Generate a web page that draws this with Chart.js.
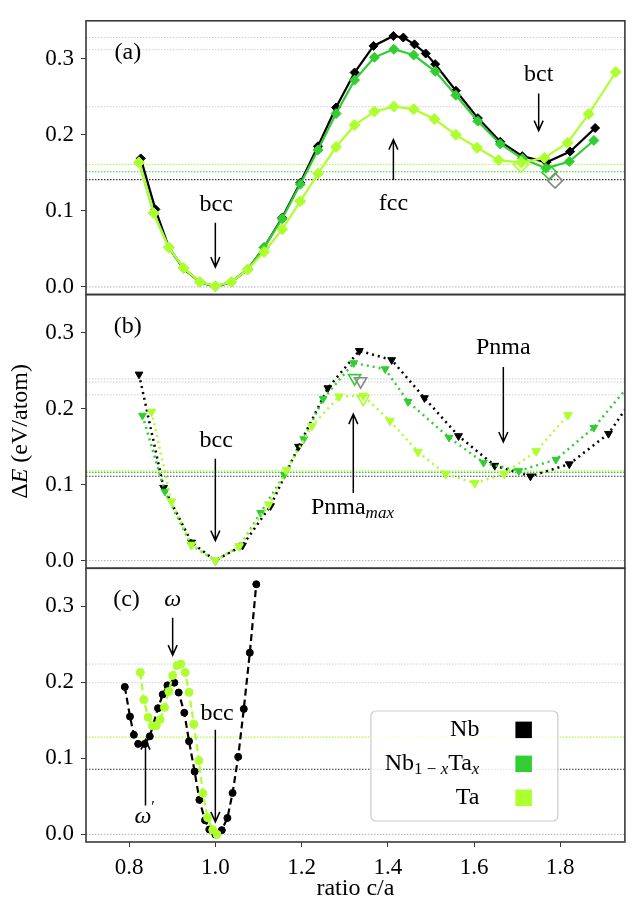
<!DOCTYPE html>
<html>
<head>
<meta charset="utf-8">
<script src="https://cdn.jsdelivr.net/npm/chart.js@4.4.1/dist/chart.umd.min.js"></script>
<style>
  html, body { margin: 0; padding: 0; background: #fff; }
  #wrap { width: 634px; height: 900px; }
</style>
</head>
<body>
<div id="wrap"><canvas id="chart" width="634" height="900"></canvas></div>
<script>
const FONT = "Liberation Serif";
const X_MIN = 0.70;
const X_MAX = 1.95;
const Y_MIN = -0.01;
const Y_MAX = 0.35;
const X_TICKS = [0.8, 1.0, 1.2, 1.4, 1.6, 1.8];
const Y_TICKS = [0.0, 0.1, 0.2, 0.3];

const COLORS = {
    nb: "#000000",
    nbta: "#32cd32",
    ta: "#adff2f",
    open: "#888888",
    faint: "rgba(165, 165, 165, 0.55)",
    frame: "#3a3a3a",
};

// (a) tetragonal Bain path
const A_NB_X = [0.827, 0.861, 0.892, 0.926, 0.964, 1.000, 1.037, 1.075, 1.113, 1.155, 1.197, 1.238, 1.280, 1.323, 1.367, 1.413, 1.436, 1.462, 1.488, 1.510, 1.558, 1.609, 1.661, 1.712, 1.768, 1.823, 1.881];
const A_NB_Y = [0.169, 0.102, 0.052, 0.024, 0.0065, 0.000, 0.0065, 0.023, 0.052, 0.091, 0.137, 0.185, 0.236, 0.282, 0.317, 0.330, 0.328, 0.319, 0.307, 0.293, 0.258, 0.222, 0.191, 0.172, 0.164, 0.178, 0.209];
const A_NBTA_X = [0.823, 0.857, 0.892, 0.926, 0.964, 1.000, 1.037, 1.075, 1.113, 1.155, 1.197, 1.238, 1.280, 1.323, 1.369, 1.414, 1.460, 1.510, 1.558, 1.609, 1.661, 1.712, 1.767, 1.821, 1.878];
const A_NBTA_Y = [0.164, 0.097, 0.052, 0.025, 0.0065, 0.001, 0.0065, 0.023, 0.052, 0.0896, 0.135, 0.180, 0.228, 0.272, 0.302, 0.3126, 0.305, 0.2835, 0.252, 0.218, 0.188, 0.169, 0.156, 0.165, 0.1926];
const A_TA_X = [0.823, 0.857, 0.892, 0.926, 0.964, 1.000, 1.037, 1.075, 1.113, 1.155, 1.197, 1.238, 1.280, 1.323, 1.369, 1.414, 1.460, 1.508, 1.558, 1.607, 1.657, 1.710, 1.763, 1.817, 1.866, 1.929];
const A_TA_Y = [0.1636, 0.097, 0.052, 0.025, 0.0065, 0.001, 0.0065, 0.023, 0.046, 0.0757, 0.1126, 0.149, 0.184, 0.213, 0.2307, 0.2372, 0.2338, 0.2208, 0.200, 0.183, 0.1667, 0.1636, 0.1697, 0.1896, 0.2273, 0.2827];
// bct minima (open diamonds): Nb, Nb1-xTax, Ta
const A_BCT_X = [1.788, 1.775, 1.709];
const A_BCT_Y = [0.1398, 0.1506, 0.161];
const A_MIN_LEVELS = [0.141, 0.1515, 0.161];
const A_MAX_LEVELS = [0.328, 0.312, 0.237];

// (b) orthorhombic path
const B_NB_X = [0.823, 0.880, 0.945, 1.000, 1.063, 1.128, 1.193, 1.261, 1.334, 1.409, 1.485, 1.564, 1.648, 1.731, 1.821, 1.912, 1.995];
const B_NB_Y = [0.245, 0.096, 0.024, 0.000, 0.020, 0.072, 0.150, 0.227, 0.276, 0.264, 0.214, 0.164, 0.125, 0.111, 0.127, 0.167, 0.235];
const B_NBTA_X = [0.831, 0.883, 0.944, 1.000, 1.056, 1.105, 1.160, 1.205, 1.250, 1.321, 1.394, 1.447, 1.542, 1.622, 1.704, 1.790, 1.878, 1.966];
const B_NBTA_Y = [0.191, 0.091, 0.021, 0.000, 0.0185, 0.063, 0.113, 0.160, 0.213, 0.260, 0.252, 0.209, 0.162, 0.129, 0.118, 0.133, 0.175, 0.235];
const B_TA_X = [0.852, 0.898, 0.945, 1.000, 1.055, 1.124, 1.165, 1.224, 1.287, 1.343, 1.405, 1.470, 1.534, 1.602, 1.670, 1.744, 1.818];
const B_TA_Y = [0.196, 0.078, 0.021, 0.000, 0.019, 0.074, 0.119, 0.177, 0.216, 0.217, 0.184, 0.143, 0.114, 0.102, 0.114, 0.144, 0.1915];
// Pnma_max (open triangles): Nb, Nb1-xTax, Ta
const B_MAX_X = [1.337, 1.323, 1.343];
const B_MAX_Y = [0.236, 0.240, 0.213];
const B_MIN_LEVELS = [0.111, 0.116, 0.118];
const B_MAX_LEVELS = [0.235, 0.239, 0.218];

// (c) trigonal path (omega)
const C_NB_X = [0.790, 0.802, 0.811, 0.821, 0.836, 0.848, 0.867, 0.878, 0.889, 0.905, 0.915, 0.928, 0.939, 0.952, 0.963, 0.976, 0.986, 1.000, 1.015, 1.028, 1.040, 1.053, 1.066, 1.080, 1.095];
const C_NB_Y = [0.194, 0.155, 0.131, 0.119, 0.119, 0.129, 0.166, 0.184, 0.196, 0.1995, 0.1865, 0.160, 0.1225, 0.0826, 0.0455, 0.0186, 0.0065, 0.000, 0.0056, 0.0216, 0.0545, 0.102, 0.165, 0.239, 0.329];
const C_TA_X = [0.826, 0.834, 0.844, 0.854, 0.863, 0.872, 0.882, 0.892, 0.901, 0.911, 0.920, 0.930, 0.939, 0.950, 0.962, 0.971, 0.982, 0.994, 1.004];
const C_TA_Y = [0.213, 0.177, 0.154, 0.143, 0.143, 0.151, 0.167, 0.188, 0.209, 0.222, 0.224, 0.213, 0.187, 0.145, 0.097, 0.054, 0.022, 0.006, 0.000];
const C_MIN_LEVELS = [0.0857, 0.128];
const C_MAX_LEVELS = [0.1995, 0.224];

const F = (size, style = "") => `${style} ${size}px "${FONT}"`.trim();

// labels in data coordinates of their panel
const NOTES = [
    { axis: "ya", x: 0.797, y: 0.308, parts: [["(a)", F(24)]] },
    { axis: "ya", x: 1.002, y: 0.108, parts: [["bcc", F(24)]] },
    { axis: "ya", x: 1.413, y: 0.109, parts: [["fcc", F(24)]] },
    { axis: "ya", x: 1.750, y: 0.279, parts: [["bct", F(24)]] },
    { axis: "yb", x: 0.797, y: 0.308, parts: [["(b)", F(24)]] },
    { axis: "yb", x: 1.002, y: 0.158, parts: [["bcc", F(24)]] },
    { axis: "yb", x: 1.318, y: 0.070, parts: [["Pnma", F(24)], ["max", F(17, "italic"), 6]] },
    { axis: "yb", x: 1.668, y: 0.2795, parts: [["Pnma", F(24)]] },
    { axis: "yc", x: 0.794, y: 0.3086, parts: [["(c)", F(24)]] },
    { axis: "yc", x: 0.901, y: 0.3086, parts: [["ω", F(24, "italic")]] },
    { axis: "yc", x: 1.004, y: 0.159, parts: [["bcc", F(24)]] },
    { axis: "yc", x: 0.836, y: 0.023, parts: [["ω", F(24, "italic")], ["′", F(16), -9]] },
];
const ARROWS = [
    { axis: "ya", x: 1.000, from: 0.0844, to: 0.026 },
    { axis: "ya", x: 1.413, from: 0.1406, to: 0.1938 },
    { axis: "ya", x: 1.750, from: 0.2545, to: 0.2056 },
    { axis: "yb", x: 1.000, from: 0.134, to: 0.0263 },
    { axis: "yb", x: 1.320, from: 0.089, to: 0.1927 },
    { axis: "yb", x: 1.668, from: 0.2546, to: 0.156 },
    { axis: "yc", x: 0.901, from: 0.2848, to: 0.2358 },
    { axis: "yc", x: 1.000, from: 0.1377, to: 0.0164 },
    { axis: "yc", x: 0.838, from: 0.038, to: 0.1247 },
];
const LEGEND = [
    { color: COLORS.nb, parts: [["Nb", F(24)]] },
    { color: COLORS.nbta, parts: [["Nb", F(24)], ["1 − ", F(17), 6], ["x", F(17, "italic"), 6], ["Ta", F(24)], ["x", F(17, "italic"), 6]] },
    { color: COLORS.ta, parts: [["Ta", F(24)]] },
];

const pts = (xs, ys) => xs.map((x, i) => ({ x, y: ys[i] }));

function curve(label, xs, ys, axis, color, style) {
    return {
        label,
        data: pts(xs, ys),
        yAxisID: axis,
        borderColor: color,
        backgroundColor: color,
        pointBackgroundColor: color,
        pointBorderColor: color,
        pointBorderWidth: 1,
        tension: 0,
        ...style,
    };
}

function openMarkers(xs, ys, axis, colors, style) {
    return xs.map((x, i) => ({
        data: [{ x, y: ys[i] }],
        yAxisID: axis,
        showLine: false,
        borderColor: colors[i],
        pointBorderColor: colors[i],
        pointBackgroundColor: "rgba(0,0,0,0)",
        pointBorderWidth: 1.6,
        order: 0,
        ...style,
    }));
}

function level(v, axis, color, width) {
    return {
        data: [{ x: X_MIN, y: v }, { x: X_MAX, y: v }],
        yAxisID: axis,
        borderColor: color,
        borderWidth: width,
        borderDash: [1.5, 1.5],
        pointRadius: 0,
        order: 20,
    };
}

const diamonds = (r, order) => ({ borderWidth: 2.2, pointStyle: "rectRot", pointRadius: r, order });
const triangles = (r, order) => ({ borderWidth: 2.5, borderDash: [2, 4], pointStyle: "triangle", pointRotation: 180, pointRadius: r, order });
const circles = (r, order) => ({ borderWidth: 2.2, borderDash: [7, 4], pointStyle: "circle", pointRadius: r, order });
const OPEN3 = [COLORS.open, COLORS.nbta, COLORS.ta];

const datasets = [
    // reference levels
    ...["ya", "yb", "yc"].map((a) => level(0, a, "rgba(120,120,140,0.6)", 1)),
    ...A_MAX_LEVELS.map((v) => level(v, "ya", COLORS.faint, 1)),
    ...B_MAX_LEVELS.map((v) => level(v, "yb", COLORS.faint, 1)),
    ...C_MAX_LEVELS.map((v) => level(v, "yc", COLORS.faint, 1)),
    level(A_MIN_LEVELS[0], "ya", "#333", 1.2),
    level(A_MIN_LEVELS[1], "ya", COLORS.nbta, 1.2),
    level(A_MIN_LEVELS[2], "ya", COLORS.ta, 1.2),
    level(B_MIN_LEVELS[0], "yb", "#333", 1.2),
    level(B_MIN_LEVELS[1], "yb", COLORS.nbta, 1.2),
    level(B_MIN_LEVELS[2], "yb", COLORS.ta, 1.2),
    level(C_MIN_LEVELS[0], "yc", "#333", 1.2),
    level(C_MIN_LEVELS[1], "yc", COLORS.ta, 1.2),

    curve("Nb", A_NB_X, A_NB_Y, "ya", COLORS.nb, diamonds(4.5, 3)),
    curve("Nb1-xTax", A_NBTA_X, A_NBTA_Y, "ya", COLORS.nbta, diamonds(5, 2)),
    curve("Ta", A_TA_X, A_TA_Y, "ya", COLORS.ta, diamonds(5.5, 1)),
    ...openMarkers(A_BCT_X, A_BCT_Y, "ya", OPEN3, { pointStyle: "rectRot", pointRadius: 7.5 }),

    curve("Nb", B_NB_X, B_NB_Y, "yb", COLORS.nb, triangles(4.5, 3)),
    curve("Nb1-xTax", B_NBTA_X, B_NBTA_Y, "yb", COLORS.nbta, triangles(4.5, 2)),
    curve("Ta", B_TA_X, B_TA_Y, "yb", COLORS.ta, triangles(5, 1)),
    ...openMarkers(B_MAX_X, B_MAX_Y, "yb", OPEN3, { pointStyle: "triangle", pointRotation: 180, pointRadius: 7 }),

    curve("Nb", C_NB_X, C_NB_Y, "yc", COLORS.nb, circles(3.5, 3)),
    curve("Ta", C_TA_X, C_TA_Y, "yc", COLORS.ta, circles(4, 1)),
];

function yAxis() {
    return {
        type: "linear",
        position: "left",
        stack: "energy",
        stackWeight: 1,
        min: Y_MIN,
        max: Y_MAX,
        afterBuildTicks: (s) => { s.ticks = Y_TICKS.map((v) => ({ value: v })); },
        afterFit: (s) => { s.width = 86; },
        grid: { drawOnChartArea: false, drawTicks: true, tickLength: 5, color: COLORS.frame, lineWidth: 1 },
        border: { display: false },
        ticks: { color: "#000", font: { family: FONT, size: 23 }, padding: 7, callback: (v) => v.toFixed(1) },
    };
}

function drawRich(ctx, parts, cx, cy, align) {
    let w = 0;
    parts.forEach(([t, f]) => { ctx.font = f; w += ctx.measureText(t).width; });
    let x = align === "right" ? cx - w : cx - w / 2;
    ctx.textAlign = "left";
    ctx.textBaseline = "middle";
    parts.forEach(([t, f, dy = 0]) => {
        ctx.font = f;
        ctx.fillText(t, x, cy + dy);
        x += ctx.measureText(t).width;
    });
}

function drawArrow(ctx, x, y0, y1) {
    const dir = Math.sign(y1 - y0);
    ctx.beginPath();
    ctx.moveTo(x, y0);
    ctx.lineTo(x, y1);
    ctx.moveTo(x - 4.5, y1 - dir * 10);
    ctx.lineTo(x, y1);
    ctx.lineTo(x + 4.5, y1 - dir * 10);
    ctx.stroke();
}

const panelDecor = {
    id: "panelDecor",
    afterDatasetsDraw(chart) {
        const { ctx, scales } = chart;
        const xs = scales.x;
        ctx.save();
        ctx.strokeStyle = COLORS.frame;
        ctx.lineWidth = 1.6;
        ["ya", "yb", "yc"].forEach((id) => {
            const ys = scales[id];
            ctx.strokeRect(xs.left, ys.top, xs.right - xs.left, ys.bottom - ys.top);
        });
        ctx.restore();
    },
    afterDraw(chart) {
        const { ctx, scales, chartArea } = chart;
        const xs = scales.x;
        ctx.save();
        ctx.fillStyle = "#000";
        ctx.strokeStyle = "#000";
        ctx.lineWidth = 1.5;

        NOTES.forEach((n) => {
            const ys = scales[n.axis];
            drawRich(ctx, n.parts, xs.getPixelForValue(n.x), ys.getPixelForValue(n.y));
        });
        ARROWS.forEach((a) => {
            const ys = scales[a.axis];
            drawArrow(ctx, xs.getPixelForValue(a.x), ys.getPixelForValue(a.from), ys.getPixelForValue(a.to));
        });

        // y title, centred on the middle panel
        const yb = scales.yb;
        ctx.save();
        ctx.translate(21, (yb.top + yb.bottom) / 2);
        ctx.rotate(-Math.PI / 2);
        drawRich(ctx, [["Δ", F(24)], ["E", F(24, "italic")], [" (eV/atom)", F(24)]], 0, 0);
        ctx.restore();

        // legend
        const bw = 187, bh = 110;
        const bx = chartArea.right - 67 - bw;
        const by = chartArea.bottom - 21 - bh;
        ctx.beginPath();
        ctx.roundRect(bx, by, bw, bh, 5);
        ctx.fillStyle = "rgba(255,255,255,0.85)";
        ctx.fill();
        ctx.strokeStyle = "#cccccc";
        ctx.lineWidth = 1.2;
        ctx.stroke();
        LEGEND.forEach((item, i) => {
            const cy = by + 18.6 + i * 34;
            ctx.fillStyle = "#000";
            drawRich(ctx, item.parts, bx + 108.5, cy, "right");
            ctx.fillStyle = item.color;
            ctx.fillRect(bx + 144.5, cy - 8, 16.5, 16.5);
        });
        ctx.restore();
    },
};

new Chart(document.getElementById("chart"), {
    type: "line",
    data: { datasets },
    options: {
        responsive: false,
        animation: false,
        events: [],
        layout: { padding: { top: 10.7, right: 2, left: 0, bottom: 0 } },
        plugins: { legend: { display: false }, tooltip: { enabled: false } },
        scales: {
            x: {
                type: "linear",
                position: "bottom",
                min: X_MIN,
                max: X_MAX,
                afterBuildTicks: (s) => { s.ticks = X_TICKS.map((v) => ({ value: v })); },
                afterFit: (s) => { s.height = 58; },
                grid: { drawOnChartArea: false, drawTicks: true, tickLength: 5, color: COLORS.frame, lineWidth: 1 },
                border: { display: false },
                ticks: { color: "#000", font: { family: FONT, size: 23 }, padding: 7, maxRotation: 0, callback: (v) => v.toFixed(1) },
                title: { display: true, text: "ratio c/a", color: "#000", font: { family: FONT, size: 24 }, padding: { top: 0, bottom: -3 } },
            },
            // stacked axes are laid out bottom-up in key order
            yc: yAxis(),
            yb: yAxis(),
            ya: yAxis(),
        },
    },
    plugins: [panelDecor],
});
</script>
</body>
</html>
